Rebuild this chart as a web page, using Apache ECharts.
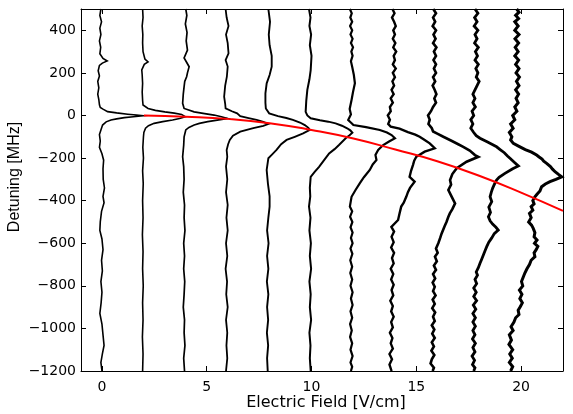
<!DOCTYPE html>
<html>
<head>
<meta charset="utf-8">
<script src="https://cdn.jsdelivr.net/npm/echarts@6/dist/echarts.min.js"></script>
<style>
  html, body { margin: 0; padding: 0; background: #fff; }
  #chart { width: 573px; height: 414px; }
</style>
</head>
<body>
<div id="chart"></div>
<script>
  // electric field of each measured spectrum (trace baseline), V/cm
  const fields = [0, 2, 4, 6, 8, 10, 12, 14, 16, 18, 20];

  // spectra: [horizontal offset from baseline, detuning MHz]
  const trace0 = [[-0.05,500],[-0.1,470],[-0.02,440],[-0.1,410],[-0.05,380],[-0.12,350],[-0.06,320],[-0.1,290],[0.05,268],[0.25,256],[0.02,246],[-0.12,235],[-0.18,210],[-0.12,185],[-0.2,160],[-0.15,130],[-0.2,100],[-0.15,75],[-0.12,50],[-0.08,38],[0.05,30],[0.27,18],[0.7,12],[1.23,6],[1.65,2],[1.96,-1],[1.5,-6],[1.07,-10],[0.7,-16],[0.43,-21],[0.2,-30],[0.03,-45],[-0.05,-68],[-0.12,-90],[-0.08,-120],[-0.12,-150],[0,-180],[0.08,-210],[0.05,-250],[0.06,-300],[0.12,-340],[0.05,-380],[0.1,-410],[-0.02,-450],[-0.08,-500],[-0.1,-540],[0,-580],[0.05,-630],[-0.02,-680],[0.02,-730],[-0.05,-780],[0,-830],[-0.04,-880],[-0.1,-930],[0,-980],[0.05,-1030],[0.1,-1080],[0.02,-1120],[-0.05,-1160],[0,-1200]];
  const trace1 = [[-0.06,500],[-0.04,460],[-0.08,420],[-0.05,380],[-0.06,340],[-0.04,300],[0.05,265],[0.2,252],[0.02,240],[-0.1,214],[-0.08,190],[-0.06,150],[-0.08,110],[-0.06,70],[-0.04,49],[0.05,40],[0.2,33],[0.55,24],[1.0,17],[1.45,11],[1.8,5],[1.98,-6],[1.7,-14],[1.37,-21],[0.9,-29],[0.49,-37],[0.22,-48],[0.08,-60],[0,-80],[-0.02,-100],[-0.05,-150],[-0.02,-200],[-0.06,-260],[-0.03,-320],[-0.06,-400],[-0.04,-480],[-0.07,-560],[-0.04,-640],[-0.06,-720],[-0.03,-800],[-0.06,-880],[-0.04,-960],[-0.07,-1040],[-0.04,-1120],[-0.06,-1200]];
  const trace2 = [[0,500],[0.05,470],[-0.02,430],[0.06,390],[0.02,350],[0.08,307],[-0.08,270],[0.16,229],[0.08,200],[0.04,182],[-0.05,160],[-0.08,135],[-0.12,100],[-0.15,57],[-0.08,33],[0.4,17],[0.9,9],[1.35,2],[1.7,-6],[1.99,-14],[1.5,-22],[1.05,-29],[0.65,-37],[0.4,-45],[0.15,-56],[0,-68],[-0.08,-100],[-0.1,-140],[-0.15,-194],[-0.1,-240],[-0.08,-300],[-0.12,-360],[-0.06,-420],[-0.08,-480],[-0.04,-540],[-0.1,-600],[-0.06,-660],[-0.1,-720],[-0.05,-780],[-0.08,-840],[-0.12,-900],[-0.06,-960],[-0.08,-1020],[-0.04,-1080],[-0.1,-1140],[-0.06,-1200]];
  const trace3 = [[-0.1,500],[-0.05,460],[0.04,420],[-0.08,380],[0.0,340],[0.04,292],[-0.1,260],[0.0,230],[-0.04,182],[-0.12,140],[-0.17,88],[-0.12,55],[-0.1,33],[0.2,20],[0.45,10],[0.6,-3],[1.0,-12],[1.38,-21],[1.7,-30],[1.94,-40],[1.7,-49],[1.22,-60],[0.6,-76],[0.25,-95],[0.1,-115],[0.02,-135],[-0.05,-162],[-0.02,-194],[-0.08,-240],[-0.02,-300],[-0.08,-360],[0,-420],[-0.06,-480],[0.0,-540],[-0.08,-600],[-0.02,-660],[-0.1,-720],[-0.03,-780],[-0.07,-840],[0,-900],[-0.08,-960],[-0.02,-1020],[-0.06,-1080],[-0.02,-1140],[-0.08,-1200]];
  const trace4 = [[-0.06,500],[0.02,440],[-0.04,380],[0.0,330],[0.1,280],[0.1,229],[0.0,190],[-0.14,151],[-0.2,104],[-0.2,60],[-0.18,33],[-0.02,10],[0.4,-3],[0.8,-12],[1.11,-21],[1.45,-33],[1.68,-45],[1.85,-58],[1.92,-68],[1.6,-84],[1.2,-100],[0.81,-115],[0.55,-135],[0.33,-162],[0.1,-185],[-0.06,-201],[-0.14,-256],[-0.08,-320],[0,-380],[0,-428],[-0.06,-480],[-0.12,-540],[-0.05,-600],[-0.12,-660],[-0.06,-720],[-0.13,-780],[-0.06,-840],[-0.12,-900],[-0.07,-960],[-0.13,-1020],[-0.07,-1080],[-0.12,-1140],[-0.09,-1200]];
  const trace5 = [[-0.12,500],[-0.05,460],[-0.1,420],[-0.02,380],[-0.08,330],[0.0,280],[-0.04,213],[-0.1,170],[-0.2,120],[-0.25,70],[-0.28,17],[-0.2,0],[-0.04,-13],[0.4,-22],[0.8,-29],[1.15,-37],[1.45,-48],[1.7,-60],[1.85,-70],[1.95,-81],[1.8,-94],[1.63,-107],[1.31,-139],[1.1,-158],[0.84,-178],[0.6,-210],[0.36,-241],[0.15,-265],[-0.04,-288],[-0.08,-340],[-0.06,-380],[-0.12,-428],[-0.05,-480],[-0.1,-540],[-0.03,-600],[-0.08,-660],[-0.02,-720],[-0.1,-780],[-0.04,-840],[-0.08,-900],[-0.02,-960],[-0.1,-1020],[-0.05,-1080],[-0.08,-1140],[-0.04,-1200]];
  const trace6 = [[-0.17,500],[-0.08,480],[-0.15,460],[-0.06,440],[-0.16,420],[-0.06,400],[-0.14,380],[-0.04,360],[-0.12,340],[-0.02,320],[-0.1,300],[-0.04,280],[-0.12,255],[-0.06,229],[0.02,190],[0.07,151],[-0.02,110],[-0.09,73],[-0.18,30],[-0.12,5],[-0.25,-21],[-0.1,-35],[0,-45],[0.6,-55],[1.26,-68],[1.6,-80],[1.82,-92],[1.98,-107],[1.7,-122],[1.42,-139],[1.18,-162],[1.05,-185],[1.1,-209],[0.92,-230],[0.78,-256],[0.5,-290],[0.3,-319],[0.1,-350],[-0.09,-382],[-0.17,-428],[-0.06,-450],[-0.16,-475],[-0.05,-500],[-0.14,-525],[-0.04,-550],[-0.12,-575],[-0.04,-600],[-0.14,-625],[-0.05,-650],[-0.15,-680],[-0.06,-710],[-0.15,-740],[-0.06,-770],[-0.14,-800],[-0.04,-830],[-0.12,-860],[-0.04,-890],[-0.14,-920],[-0.06,-950],[-0.16,-980],[-0.08,-1010],[-0.16,-1040],[-0.06,-1070],[-0.14,-1100],[-0.04,-1130],[-0.14,-1160],[-0.06,-1180],[-0.12,-1200]];
  const trace7 = [[-0.14,500],[-0.04,480],[-0.16,460],[-0.06,440],[0.02,420],[-0.1,400],[-0.02,380],[-0.12,360],[0.0,340],[-0.1,320],[0.04,300],[-0.08,280],[-0.02,260],[-0.12,240],[0.02,220],[-0.12,200],[-0.02,180],[-0.14,160],[-0.06,140],[-0.18,120],[-0.08,100],[-0.22,80],[-0.12,60],[-0.26,40],[-0.22,20],[-0.36,0],[-0.26,-20],[-0.34,-40],[-0.22,-52],[0.2,-62],[0.6,-78],[0.95,-90],[1.16,-100],[1.4,-115],[1.64,-131],[1.88,-154],[1.4,-170],[1.0,-194],[0.9,-212],[0.84,-233],[0.75,-260],[0.68,-288],[0.92,-311],[0.7,-340],[0.6,-360],[0.52,-382],[0.4,-410],[0.28,-428],[0.2,-460],[0.13,-491],[-0.19,-523],[-0.06,-545],[-0.18,-570],[-0.08,-595],[-0.2,-620],[-0.06,-645],[-0.16,-670],[-0.08,-695],[-0.22,-720],[-0.1,-745],[-0.2,-770],[-0.08,-795],[-0.18,-820],[-0.1,-845],[-0.24,-870],[-0.12,-895],[-0.2,-920],[-0.08,-945],[-0.2,-970],[-0.12,-995],[-0.26,-1020],[-0.14,-1045],[-0.22,-1070],[-0.12,-1095],[-0.28,-1120],[-0.16,-1145],[-0.28,-1170],[-0.18,-1200]];
  const trace8 = [[-0.19,500],[-0.06,480],[-0.2,460],[-0.1,440],[-0.22,420],[-0.06,400],[-0.18,380],[-0.08,360],[-0.2,340],[-0.04,320],[-0.16,300],[-0.06,280],[-0.18,260],[-0.06,240],[-0.16,220],[-0.06,200],[-0.2,180],[-0.1,160],[-0.22,140],[-0.12,120],[-0.04,100],[-0.14,80],[-0.06,60],[-0.2,40],[-0.3,20],[-0.44,0],[-0.36,-20],[-0.42,-40],[-0.26,-60],[-0.2,-75],[0.0,-85],[0.29,-100],[0.7,-120],[1.0,-135],[1.24,-147],[1.55,-165],[1.8,-186],[1.96,-194],[1.4,-217],[0.93,-248],[0.82,-262],[0.72,-275],[0.61,-303],[0.66,-325],[0.53,-350],[0.68,-380],[0.85,-413],[0.93,-421],[0.72,-440],[0.6,-460],[0.53,-476],[0.44,-500],[0.35,-520],[0.21,-554],[0.14,-575],[0.05,-600],[-0.06,-625],[0.02,-645],[-0.11,-663],[-0.02,-685],[-0.16,-705],[-0.06,-725],[-0.2,-745],[-0.1,-765],[-0.22,-785],[-0.12,-805],[-0.2,-825],[-0.08,-845],[-0.22,-865],[-0.12,-885],[-0.24,-905],[-0.1,-925],[-0.2,-945],[-0.12,-965],[-0.26,-985],[-0.14,-1005],[-0.24,-1025],[-0.12,-1045],[-0.26,-1065],[-0.16,-1085],[-0.28,-1105],[-0.14,-1125],[-0.26,-1145],[-0.32,-1165],[-0.16,-1185],[-0.22,-1200]];
  const trace9 = [[-0.2,500],[-0.06,480],[-0.22,460],[-0.1,440],[-0.24,420],[-0.06,400],[-0.2,380],[-0.1,360],[-0.22,340],[-0.04,320],[-0.18,300],[-0.08,280],[-0.2,260],[-0.04,240],[-0.16,220],[-0.06,200],[-0.14,180],[0.0,160],[-0.1,140],[-0.2,120],[-0.3,100],[-0.2,80],[-0.3,60],[-0.18,40],[-0.34,20],[-0.26,0],[-0.4,-20],[-0.3,-40],[-0.4,-60],[-0.26,-80],[-0.14,-95],[0.04,-107],[0.4,-125],[0.83,-147],[1.0,-160],[1.2,-175],[1.35,-190],[1.47,-201],[1.7,-222],[1.87,-237],[1.6,-250],[1.23,-272],[0.95,-290],[0.83,-303],[0.74,-320],[0.65,-340],[0.58,-360],[0.52,-382],[0.6,-405],[0.46,-430],[0.54,-455],[0.44,-476],[0.52,-495],[0.64,-510],[0.8,-525],[0.91,-538],[0.72,-555],[0.6,-575],[0.46,-595],[0.36,-616],[0.28,-635],[0.2,-655],[0.12,-675],[0.04,-694],[-0.04,-715],[-0.14,-735],[-0.08,-750],[-0.2,-770],[-0.12,-790],[-0.26,-810],[-0.14,-830],[-0.26,-850],[-0.12,-870],[-0.28,-890],[-0.16,-910],[-0.3,-930],[-0.18,-950],[-0.3,-970],[-0.18,-990],[-0.3,-1010],[-0.2,-1030],[-0.32,-1050],[-0.18,-1070],[-0.3,-1090],[-0.2,-1110],[-0.34,-1130],[-0.22,-1150],[-0.32,-1170],[-0.2,-1185],[-0.26,-1200]];
  const trace10 = [[-0.21,500],[-0.1,485],[-0.26,470],[-0.12,455],[-0.3,440],[-0.14,420],[-0.3,400],[-0.1,380],[-0.29,360],[-0.12,340],[-0.28,320],[-0.14,300],[-0.3,280],[-0.12,260],[-0.26,240],[-0.1,220],[-0.24,200],[-0.08,180],[-0.22,160],[-0.1,140],[-0.26,120],[-0.12,100],[-0.24,80],[-0.14,60],[-0.3,40],[-0.2,20],[-0.4,0],[-0.3,-20],[-0.5,-40],[-0.38,-60],[-0.56,-80],[-0.44,-100],[-0.5,-115],[-0.37,-131],[-0.1,-145],[0.2,-160],[0.5,-172],[0.74,-186],[0.86,-195],[1.0,-205],[1.08,-215],[1.22,-225],[1.4,-240],[1.5,-252],[1.62,-264],[1.8,-278],[1.94,-288],[1.66,-300],[1.38,-311],[1.16,-322],[0.98,-335],[0.9,-355],[0.76,-370],[0.66,-382],[0.56,-400],[0.62,-415],[0.48,-428],[0.56,-445],[0.4,-460],[0.48,-480],[0.36,-500],[0.5,-515],[0.58,-530],[0.66,-550],[0.62,-570],[0.76,-585],[0.64,-600],[0.8,-615],[0.72,-630],[0.62,-645],[0.66,-663],[0.48,-680],[0.4,-700],[0.28,-720],[0.18,-740],[0.1,-760],[0.02,-780],[0.08,-800],[-0.08,-820],[0.04,-840],[-0.06,-860],[0.06,-880],[-0.04,-898],[-0.14,-915],[-0.1,-935],[-0.26,-950],[-0.34,-970],[-0.48,-992],[-0.38,-1010],[-0.56,-1030],[-0.46,-1055],[-0.58,-1075],[-0.4,-1100],[-0.54,-1120],[-0.42,-1140],[-0.56,-1160],[-0.4,-1180],[-0.5,-1200]];
  const traces = [trace0, trace1, trace2, trace3, trace4, trace5, trace6, trace7, trace8, trace9, trace10];

  // red curve (Stark shift) : [field V/cm, detuning MHz]
  const shiftCurve = [[2,0],[4,-6],[6,-16],[8,-36],[10,-68],[12,-108],[14,-160],[16,-215],[18,-283],[20,-362],[22,-448]];

  const xTicks = [0, 5, 10, 15, 20];
  const yTicks = [-1200, -1000, -800, -600, -400, -200, 0, 200, 400];

  // thicker lines for the noisier high-field spectra
  const widths = [1.6, 1.6, 1.7, 1.8, 1.9, 2.0, 2.2, 2.4, 2.6, 2.8, 3.0];

  const chart = echarts.init(document.getElementById('chart'));

  const minus = (v) => String(v).replace('-', '\u2212');
  const tickFont = { fontFamily: 'DejaVu Sans', fontSize: 14, color: '#000' };

  const series = traces.map((tr, i) => ({
    type: 'line',
    data: tr.map((p) => [fields[i] + p[0], p[1]]),
    symbol: 'none',
    lineStyle: { color: '#000', width: widths[i], join: 'miter' },
    silent: true,
  }));
  series.push({
    type: 'line',
    data: shiftCurve,
    smooth: true,
    symbol: 'none',
    lineStyle: { color: '#ff0000', width: 2 },
    z: 5,
  });

  const axisLine = { show: true, onZero: false, lineStyle: { color: '#000', width: 1 } };

  const option = {
    animation: false,
    grid: { left: 81, right: 10, top: 9, bottom: 43, outerBoundsMode: 'none', containLabel: false },
    xAxis: [
      {
        type: 'value', min: -1, max: 22, position: 'bottom',
        name: 'Electric Field [V/cm]', nameLocation: 'middle', nameGap: 24, nameMoveOverlap: false,
        nameTextStyle: { fontFamily: 'DejaVu Sans', fontSize: 16, color: '#000', padding: [0, 0, 0, 8] },
        axisLine: axisLine,
        axisTick: { inside: true, length: 5, customValues: xTicks, lineStyle: { color: '#000' } },
        axisLabel: { customValues: xTicks, margin: 9, ...tickFont },
        splitLine: { show: false },
      },
      {
        type: 'value', min: -1, max: 22, position: 'top',
        axisLine: axisLine,
        axisTick: { inside: true, length: 5, customValues: xTicks, lineStyle: { color: '#000' } },
        axisLabel: { show: false },
        splitLine: { show: false },
      },
    ],
    yAxis: [
      {
        type: 'value', min: -1200, max: 500, position: 'left',
        name: 'Detuning [MHz]', nameLocation: 'middle', nameGap: 58, nameRotate: 90, nameMoveOverlap: false,
        nameTextStyle: { fontFamily: 'Liberation Sans', fontSize: 16, color: '#000', padding: [0, 0, 0, 26] },
        axisLine: axisLine,
        axisTick: { inside: true, length: 5, customValues: yTicks, lineStyle: { color: '#000' } },
        axisLabel: { customValues: yTicks, margin: 5, formatter: minus, ...tickFont },
        splitLine: { show: false },
      },
      {
        type: 'value', min: -1200, max: 500, position: 'right',
        axisLine: axisLine,
        axisTick: { inside: true, length: 5, customValues: yTicks, lineStyle: { color: '#000' } },
        axisLabel: { show: false },
        splitLine: { show: false },
      },
    ],
    series: series,
  };

  chart.setOption(option);
</script>
</body>
</html>
